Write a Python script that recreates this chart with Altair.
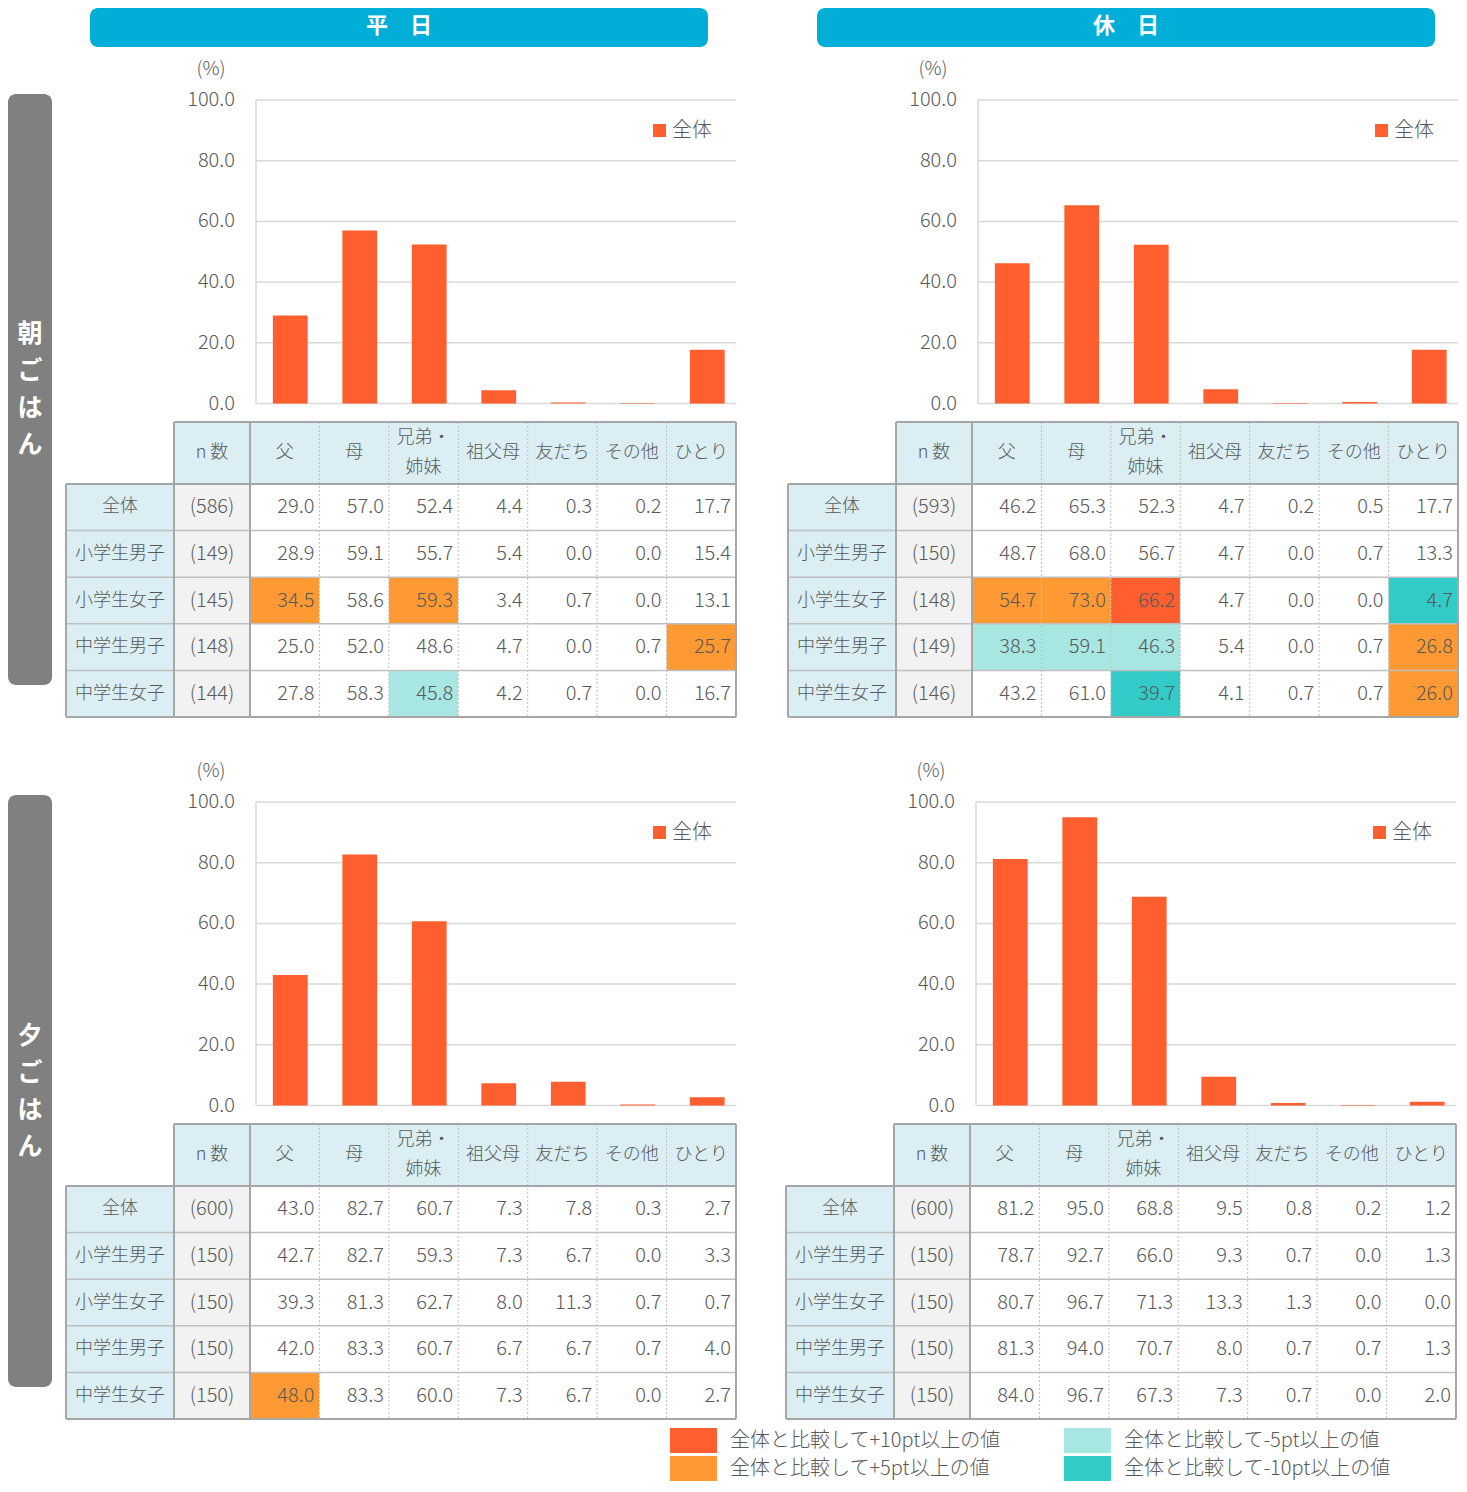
import altair as alt
import pandas as pd

# ---------------- data ----------------
CATS = ["父", "母", "兄弟・姉妹", "祖父母", "友だち", "その他", "ひとり"]
CAT_HEADERS = ["父", "母", "兄弟・\n姉妹", "祖父母", "友だち", "その他", "ひとり"]
GROUPS = ["全体", "小学生男子", "小学生女子", "中学生男子", "中学生女子"]
Y_TICKS = [0, 20, 40, 60, 80, 100]
SECTION_TITLES = ["平\u3000日", "休\u3000日"]
MEAL_TITLES = ["朝ごはん", "夕ごはん"]
LEGEND_LABELS = ["全体と比較して+10pt以上の値", "全体と比較して+5pt以上の値",
                 "全体と比較して-5pt以上の値", "全体と比較して-10pt以上の値"]
LEGEND_LEVELS = ["+10", "+5", "-5", "-10"]

# 平日・朝ごはん
WD_BF_N = [586, 149, 145, 148, 144]
WD_BF = [
    [29.0, 57.0, 52.4, 4.4, 0.3, 0.2, 17.7],
    [28.9, 59.1, 55.7, 5.4, 0.0, 0.0, 15.4],
    [34.5, 58.6, 59.3, 3.4, 0.7, 0.0, 13.1],
    [25.0, 52.0, 48.6, 4.7, 0.0, 0.7, 25.7],
    [27.8, 58.3, 45.8, 4.2, 0.7, 0.0, 16.7],
]
WD_BF_HL = [("小学生女子", "父", "+5"), ("小学生女子", "兄弟・姉妹", "+5"),
            ("中学生男子", "ひとり", "+5"), ("中学生女子", "兄弟・姉妹", "-5")]

# 休日・朝ごはん
HD_BF_N = [593, 150, 148, 149, 146]
HD_BF = [
    [46.2, 65.3, 52.3, 4.7, 0.2, 0.5, 17.7],
    [48.7, 68.0, 56.7, 4.7, 0.0, 0.7, 13.3],
    [54.7, 73.0, 66.2, 4.7, 0.0, 0.0, 4.7],
    [38.3, 59.1, 46.3, 5.4, 0.0, 0.7, 26.8],
    [43.2, 61.0, 39.7, 4.1, 0.7, 0.7, 26.0],
]
HD_BF_HL = [("小学生女子", "父", "+5"), ("小学生女子", "母", "+5"),
            ("小学生女子", "兄弟・姉妹", "+10"), ("小学生女子", "ひとり", "-10"),
            ("中学生男子", "父", "-5"), ("中学生男子", "母", "-5"),
            ("中学生男子", "兄弟・姉妹", "-5"), ("中学生男子", "ひとり", "+5"),
            ("中学生女子", "兄弟・姉妹", "-10"), ("中学生女子", "ひとり", "+5")]

# 平日・夕ごはん
WD_DN_N = [600, 150, 150, 150, 150]
WD_DN = [
    [43.0, 82.7, 60.7, 7.3, 7.8, 0.3, 2.7],
    [42.7, 82.7, 59.3, 7.3, 6.7, 0.0, 3.3],
    [39.3, 81.3, 62.7, 8.0, 11.3, 0.7, 0.7],
    [42.0, 83.3, 60.7, 6.7, 6.7, 0.7, 4.0],
    [48.0, 83.3, 60.0, 7.3, 6.7, 0.0, 2.7],
]
WD_DN_HL = [("中学生女子", "父", "+5")]

# 休日・夕ごはん
HD_DN_N = [600, 150, 150, 150, 150]
HD_DN = [
    [81.2, 95.0, 68.8, 9.5, 0.8, 0.2, 1.2],
    [78.7, 92.7, 66.0, 9.3, 0.7, 0.0, 1.3],
    [80.7, 96.7, 71.3, 13.3, 1.3, 0.0, 0.0],
    [81.3, 94.0, 70.7, 8.0, 0.7, 0.7, 1.3],
    [84.0, 96.7, 67.3, 7.3, 0.7, 0.0, 2.0],
]
HD_DN_HL = []

# ---------------- style ----------------
FONT = "Noto Sans CJK JP"
FW = 300
TXT = "#595959"
BAR = "#FF5F2F"
HEAD_BLUE = "#00AED8"
SIDE_GRAY = "#808080"
LBLUE = "#DAEEF3"
NGRAY = "#F2F2F2"
GRID = "#D9D9D9"
LINE_L = "#BFBFBF"
LINE_D = "#A6A6A6"
LEVEL_FILL = {"+10": "#FF5F2F", "+5": "#FF9933", "-5": "#A8E6E2", "-10": "#33CBC7"}

DX, DY = 5, 8
W, H = 1451, 1476
COLW = (733 - 247) / 7


def one():
    return pd.DataFrame({"k": [0]})


def box(x1, x2, y1, y2, **mk):
    return alt.Chart(one()).mark_rect(**mk).encode(
        x=alt.value(x1), x2=alt.value(x2), y=alt.value(y1), y2=alt.value(y2))


def seg(x1, x2, y1, y2, **mk):
    return alt.Chart(one()).mark_rule(**mk).encode(
        x=alt.value(x1), x2=alt.value(x2), y=alt.value(y1), y2=alt.value(y2))


def label(x, y, text, **mk):
    params = dict(font=FONT, color=TXT, baseline="middle", fontWeight=FW)
    params.update(mk)
    return alt.Chart(one()).mark_text(text=text, **params).encode(
        x=alt.value(x), y=alt.value(y))


def txt_mark(**mk):
    params = dict(font=FONT, color=TXT, baseline="middle", fontWeight=FW)
    params.update(mk)
    return params


def panel(ox, oy, n_list, rows, highlights):
    X = lambda x: x + ox - DX
    Y = lambda y: y + oy - DY
    L = []
    ysc = alt.Scale(domain=[0, 100], range=[Y(403.5), Y(100)], nice=False)
    tick_df = pd.DataFrame({"v": Y_TICKS})
    L.append(alt.Chart(tick_df).mark_rule(color=GRID, strokeWidth=1.5).encode(
        y=alt.Y("v:Q", scale=ysc, axis=None),
        x=alt.value(X(253)), x2=alt.value(X(733))))
    L.append(seg(X(253), X(253), Y(100), Y(403.5), color=GRID, strokeWidth=1.5))
    L.append(alt.Chart(tick_df).mark_text(**txt_mark(align="right", fontSize=20)).encode(
        y=alt.Y("v:Q", scale=ysc, axis=None), x=alt.value(X(232)),
        text=alt.Text("v:Q", format=".1f")))
    L.append(label(X(208), Y(69), "(%)", fontSize=19, align="center"))

    bar_df = pd.DataFrame({"cat": CATS, "v": rows[0]})
    bsc = alt.Scale(domain=CATS, range=[X(252.5), X(739)],
                    paddingInner=0.5, paddingOuter=0.25)
    L.append(alt.Chart(bar_df).mark_bar(color=BAR).encode(
        x=alt.X("cat:N", scale=bsc, axis=None),
        y=alt.Y("v:Q", scale=ysc, axis=None)))

    # in-chart legend
    L.append(box(X(650), X(663), Y(124), Y(137), color=BAR))
    L.append(label(X(669), Y(130.5), "全体", fontSize=20, align="left"))

    # table
    tsc = alt.Scale(domain=CATS, range=[X(247), X(733)], paddingInner=0, paddingOuter=0)
    # right edge of each category column (for right-aligned numbers)
    rsc_pt = alt.Scale(type="point", domain=CATS, range=[X(247 + COLW), X(733)], padding=0)
    rsc = alt.Scale(domain=GROUPS, range=[Y(484), Y(717)], paddingInner=0, paddingOuter=0)
    L.append(box(X(171), X(733), Y(422), Y(484), color=LBLUE))
    L.append(box(X(63), X(171), Y(484), Y(717), color=LBLUE))
    L.append(box(X(171), X(247), Y(484), Y(717), color=NGRAY))

    hl = {(g, c): lv for g, c, lv in highlights}
    recs = []
    for gi, g in enumerate(GROUPS):
        for ci, c in enumerate(CATS):
            v = rows[gi][ci]
            lv = hl.get((g, c))
            recs.append({"grp": g, "cat": c, "txt": f"{v:.1f}",
                         "fill": LEVEL_FILL[lv] if lv else "#FFFFFF"})
    cell_df = pd.DataFrame(recs)
    L.append(alt.Chart(cell_df).mark_rect().encode(
        x=alt.X("cat:N", scale=tsc, axis=None),
        y=alt.Y("grp:N", scale=rsc, axis=None),
        color=alt.Color("fill:N", scale=None)))

    head1 = pd.DataFrame({"cat": [c for c, h in zip(CATS, CAT_HEADERS) if "\n" not in h],
                          "t": [h for h in CAT_HEADERS if "\n" not in h]})
    head2 = pd.DataFrame({"cat": [c for c, h in zip(CATS, CAT_HEADERS) if "\n" in h],
                          "t": [h for h in CAT_HEADERS if "\n" in h]})
    L.append(alt.Chart(head1).mark_text(**txt_mark(fontSize=18)).encode(
        x=alt.X("cat:N", scale=tsc, axis=None), y=alt.value(Y(453)), text="t:N"))
    L.append(alt.Chart(head2).mark_text(**txt_mark(fontSize=18, lineBreak="\n", lineHeight=30)).encode(
        x=alt.X("cat:N", scale=tsc, axis=None), y=alt.value(Y(438)), text="t:N"))
    L.append(label(X(209), Y(453), "n 数", fontSize=18, align="center"))

    grp_df = pd.DataFrame({"grp": GROUPS, "n": [f"({n})" for n in n_list]})
    L.append(alt.Chart(grp_df).mark_text(**txt_mark(fontSize=18)).encode(
        y=alt.Y("grp:N", scale=rsc, axis=None), x=alt.value(X(117)), text="grp:N"))
    L.append(alt.Chart(grp_df).mark_text(**txt_mark(fontSize=20)).encode(
        y=alt.Y("grp:N", scale=rsc, axis=None), x=alt.value(X(209)), text="n:N"))
    L.append(alt.Chart(cell_df).mark_text(**txt_mark(fontSize=20, align="right", dx=-5)).encode(
        x=alt.X("cat:N", scale=rsc_pt, axis=None),
        y=alt.Y("grp:N", scale=rsc, axis=None), text="txt:N"))

    sep_df = pd.DataFrame({"cat": CATS[1:]})
    sep_sc = alt.Scale(type="point", domain=CATS[1:], range=[X(247 + COLW), X(733 - COLW)], padding=0)
    L.append(alt.Chart(sep_df).mark_rule(color=LINE_L, strokeWidth=1, strokeDash=[2, 2]).encode(
        x=alt.X("cat:N", scale=sep_sc, axis=None),
        y=alt.value(Y(422)), y2=alt.value(Y(717))))
    row_df = pd.DataFrame({"grp": GROUPS[1:]})
    rowh = (717 - 484) / 5
    row_sc = alt.Scale(type="point", domain=GROUPS[1:], range=[Y(484 + rowh), Y(717 - rowh)], padding=0)
    L.append(alt.Chart(row_df).mark_rule(color=LINE_L, strokeWidth=1.5).encode(
        y=alt.Y("grp:N", scale=row_sc, axis=None),
        x=alt.value(X(63)), x2=alt.value(X(733))))
    for (x1, x2, y1, y2) in [(171, 733, 422, 422), (63, 733, 484, 484), (63, 733, 717, 717),
                             (63, 63, 484, 717), (171, 171, 422, 717), (247, 247, 422, 717),
                             (733, 733, 422, 717)]:
        L.append(seg(X(x1), X(x2), Y(y1), Y(y2), color=LINE_D, strokeWidth=2))
    return L


layers = []
# section headers
for title, (x1, x2) in zip(SECTION_TITLES, [(87, 705), (814, 1432)]):
    layers.append(box(x1 - DX, x2 - DX, 0, 47 - DY, color=HEAD_BLUE, cornerRadius=8))
    layers.append(label((x1 + x2) / 2 - DX, 26 - DY, title, fontSize=22, fontWeight="bold",
                        color="white", align="center"))
# side labels (vertical text, one character per line)
for title, (y1, y2) in zip(MEAL_TITLES, [(94, 685), (795, 1387)]):
    layers.append(box(0, 44, y1 - DY, y2 - DY, color=SIDE_GRAY, cornerRadius=8))
    chars = list(title)
    yc = (y1 + y2) / 2 - DY
    step = 37
    ch_df = pd.DataFrame({"i": list(range(len(chars))), "c": chars})
    ch_sc = alt.Scale(type="point", domain=list(range(len(chars))),
                      range=[yc - step * (len(chars) - 1) / 2, yc + step * (len(chars) - 1) / 2],
                      padding=0)
    layers.append(alt.Chart(ch_df).mark_text(
        font=FONT, fontSize=25, fontWeight="bold", color="white", baseline="middle").encode(
        y=alt.Y("i:O", scale=ch_sc, axis=None), x=alt.value(22), text="c:N"))

layers += panel(0, 0, WD_BF_N, WD_BF, WD_BF_HL)
layers += panel(722, 0, HD_BF_N, HD_BF, HD_BF_HL)
layers += panel(0, 702, WD_DN_N, WD_DN, WD_DN_HL)
layers += panel(720, 702, HD_DN_N, HD_DN, HD_DN_HL)

# bottom legend
leg_pos = [(667, 1440.5, 1428, 1453), (667, 1468.5, 1456, 1481),
           (1061, 1440.5, 1428, 1453), (1061, 1468.5, 1456, 1481)]
for lab, lv, (lx, ly, sy1, sy2) in zip(LEGEND_LABELS, LEGEND_LEVELS, leg_pos):
    layers.append(box(lx - DX, lx + 47 - DX, sy1 - DY, sy2 - DY, color=LEVEL_FILL[lv]))
    layers.append(label(lx + 60 - DX, ly - DY, lab, fontSize=20, align="left"))

chart = alt.layer(*layers).resolve_scale(
    x="independent", y="independent"
).properties(
    width=W, height=H, padding=0, autosize="none", background="white"
).configure_view(stroke=None)

chart.save("out.html", embed_options={"renderer": "svg", "actions": False})
